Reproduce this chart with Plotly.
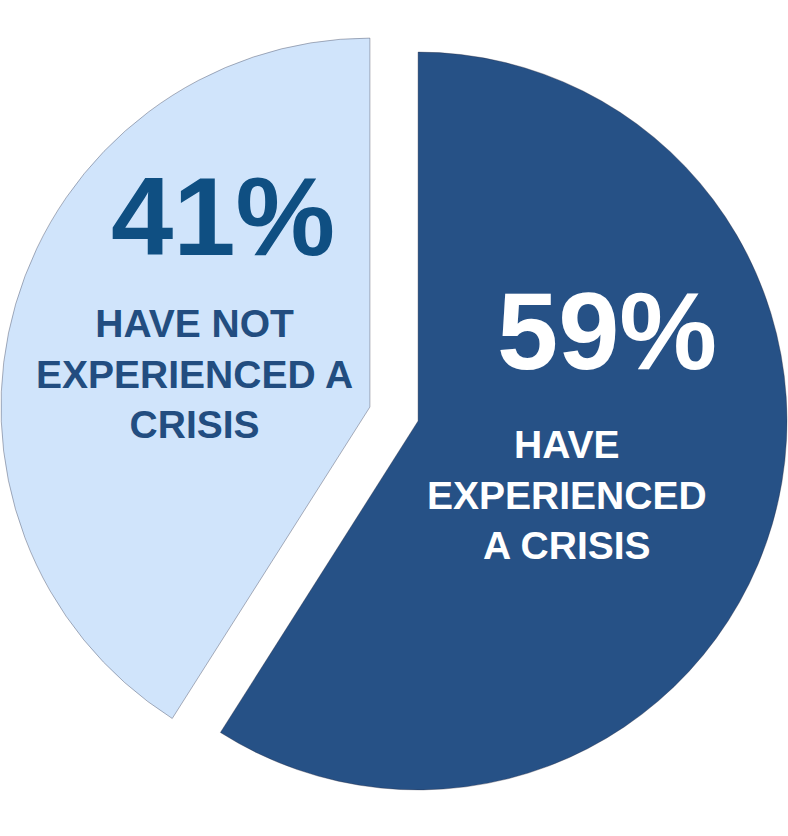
import plotly.graph_objects as go

labels = ["HAVE EXPERIENCED A CRISIS", "HAVE NOT EXPERIENCED A CRISIS"]
values = [59, 41]
colors = ["#265186", "#D0E4FB"]
label_lines = [["HAVE", "EXPERIENCED", "A CRISIS"], ["HAVE NOT", "EXPERIENCED A", "CRISIS"]]

W, H = 788, 836

fig = go.Figure(go.Pie(
    labels=labels,
    values=values,
    marker=dict(colors=colors, line=dict(color="rgba(40,40,60,0.35)", width=1)),
    sort=False,
    direction="clockwise",
    rotation=0,
    pull=[0.068, 0.068],
    textinfo="none",
    hoverinfo="label+percent",
    domain=dict(x=[0, 1], y=[1 - 808 / H, 1 - 20 / H]),
    showlegend=False,
))

font_family = "Liberation Sans, Arial, sans-serif"

# annotation centres (paper coords)
pct_pos = [(607 / W, 1 - 331 / H), (222.5 / W, 1 - 216 / H)]
pct_col = ["#FFFFFF", "#0F4F82"]
pct_size = [110, 112]
lbl_pos = [(566.5 / W, 1 - 495 / H), (194.5 / W, 1 - 374 / H)]
lbl_col = ["#FFFFFF", "#224D80"]

for i in range(len(values)):
    fig.add_annotation(
        x=pct_pos[i][0], y=pct_pos[i][1], xref="paper", yref="paper",
        text="<b>%d%%</b>" % values[i], showarrow=False,
        xanchor="center", yanchor="middle",
        font=dict(family=font_family, size=pct_size[i], color=pct_col[i]),
    )
    fig.add_annotation(
        x=lbl_pos[i][0], y=lbl_pos[i][1], xref="paper", yref="paper",
        text="<br>".join("<b>%s</b>" % s for s in label_lines[i]), showarrow=False,
        xanchor="center", yanchor="middle", align="center",
        font=dict(family=font_family, size=39, color=lbl_col[i]),
    )

fig.update_layout(
    width=W, height=H,
    margin=dict(l=0, r=0, t=0, b=0),
    paper_bgcolor="white",
    plot_bgcolor="white",
)

fig.write_html("out.html")
